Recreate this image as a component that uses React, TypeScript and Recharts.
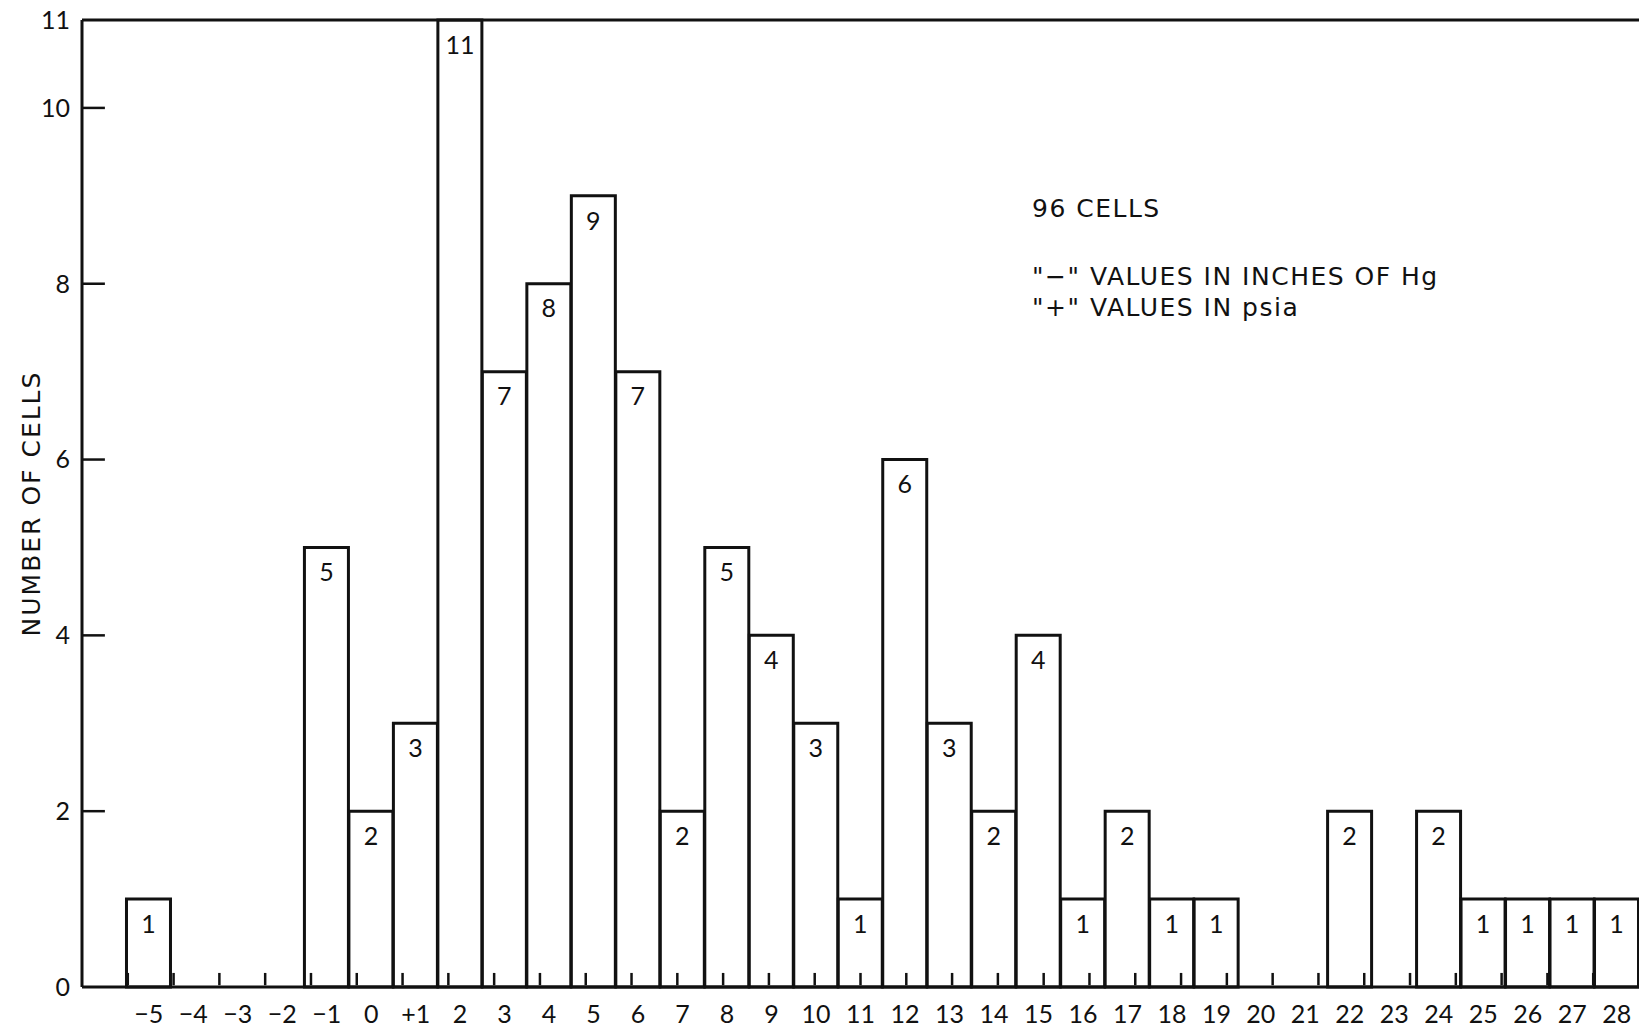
import React from "react";
import {
  BarChart,
  Bar,
  XAxis,
  YAxis,
  ReferenceLine,
  LabelList,
  Label,
} from "recharts";

// slot 0 is an empty band left of -5 (the reference leaves it blank)
const slotLabels = [
  "", "−5", "−4", "−3", "−2", "−1", "0", "+1", "2", "3", "4", "5", "6", "7",
  "8", "9", "10", "11", "12", "13", "14", "15", "16", "17", "18", "19", "20",
  "21", "22", "23", "24", "25", "26", "27", "28",
];

const cellCounts: (number | null)[] = [
  null, 1, null, null, null, 5, 2, 3, 11, 7, 8, 9, 7, 2, 5, 4, 3, 1, 6, 3, 2,
  4, 1, 2, 1, 1, null, null, 2, null, 2, 1, 1, 1, 1,
];

const yTicks = [0, 2, 4, 6, 8, 10, 11];
const sideTicks = [2, 4, 6, 8, 10];
// band edges where a short upward tick sits on the baseline
const edgeTicks = [
  1, 2, 3, 4, 5, 6, 7, 8, 9, 10, 11, 12, 13, 14, 15, 16, 17, 18, 19, 20, 21,
  22, 23, 24, 25, 26, 27, 28, 29, 30, 31, 32, 33, 34,
];

const noteLines = ["96 CELLS", "", "\"−\" VALUES IN INCHES OF Hg", "\"+\" VALUES IN psia"];

const FONT = "Lato, 'Open Sans', sans-serif";
const WIDE = "'DejaVu Sans', sans-serif";
const INK = "#111";

const data = slotLabels.map((label, i) => ({ label, cells: cellCounts[i] }));

export default function App() {
  return (
    <div style={{ position: "absolute", left: 0, top: 0, width: 1639, height: 1029, background: "#fff", fontFamily: FONT }}>
      <BarChart
        width={1639}
        height={1029}
        data={data}
        margin={{ top: 20, right: 0, bottom: 0, left: 0 }}
        barCategoryGap={0}
        barGap={0}
      >
        <XAxis
          dataKey="label"
          interval={0}
          tickLine={false}
          tickSize={0}
          tickMargin={18}
          height={42}
          axisLine={{ stroke: INK, strokeWidth: 3 }}
          tick={{ fontSize: 25, fill: INK, fontFamily: FONT }}
        />
        <XAxis xAxisId="edge" type="number" domain={[0, 35]} hide />
        <YAxis
          domain={[0, 11]}
          ticks={yTicks}
          interval={0}
          width={82}
          tickLine={false}
          tickSize={0}
          tickMargin={12}
          axisLine={{ stroke: INK, strokeWidth: 3 }}
          tick={{ fontSize: 25, fill: INK, fontFamily: FONT }}
        >
          <Label
            value="NUMBER OF CELLS"
            angle={-90}
            position="insideLeft"
            offset={31}
            style={{ fontSize: 25, fill: INK, fontFamily: WIDE, letterSpacing: 2, textAnchor: "middle" }}
          />
        </YAxis>
        <ReferenceLine y={11} xAxisId="edge" stroke={INK} strokeWidth={3} />
        {sideTicks.map((v) => (
          <ReferenceLine
            key={"l" + v}
            xAxisId="edge"
            segment={[{ x: 0, y: v }, { x: 0.5, y: v }]}
            stroke={INK}
            strokeWidth={2.5}
          />
        ))}
        {sideTicks.map((v) => (
          <ReferenceLine
            key={"r" + v}
            xAxisId="edge"
            segment={[{ x: 34.5, y: v }, { x: 35, y: v }]}
            stroke={INK}
            strokeWidth={2.5}
          />
        ))}
        {edgeTicks.map((e) => (
          <ReferenceLine
            key={"e" + e}
            xAxisId="edge"
            segment={[{ x: e, y: 0.02 }, { x: e, y: 0.16 }]}
            stroke={INK}
            strokeWidth={2.5}
          />
        ))}
        <Bar dataKey="cells" fill="#fff" stroke={INK} strokeWidth={3} isAnimationActive={false}>
          <LabelList
            dataKey="cells"
            position="insideTop"
            offset={16}
            style={{ fontSize: 25, fill: INK, fontFamily: FONT }}
          />
        </Bar>
      </BarChart>
      <div style={{ position: "absolute", left: 1032, top: 193, fontSize: 25, lineHeight: "31px", color: INK, whiteSpace: "pre", fontFamily: WIDE, letterSpacing: 1.5 }}>
        {noteLines.map((t, i) => (
          <div key={i} style={{ height: i === 1 ? 37 : 31 }}>{t}</div>
        ))}
      </div>
    </div>
  );
}
